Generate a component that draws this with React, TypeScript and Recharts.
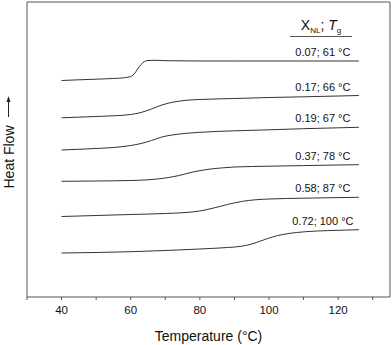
import React from 'react';
import { LineChart, Line, XAxis, YAxis, ReferenceArea } from 'recharts';

// DSC traces, heat flow in arbitrary units (curves offset vertically)
const t1 = [40, 45, 50, 55, 58, 60, 61, 62, 63, 64, 65, 67, 70, 80, 90, 100, 110, 120, 126];
const hf1 = [21.65, 21.72, 21.78, 21.85, 21.92, 22.05, 22.3, 22.8, 23.25, 23.55, 23.65, 23.67, 23.63, 23.6, 23.6, 23.6, 23.6, 23.6, 23.6];

const t2 = [40, 50, 55, 60, 63, 66, 69, 72, 76, 80, 90, 100, 110, 120, 126];
const hf2 = [17.92, 18.05, 18.12, 18.25, 18.45, 18.8, 19.2, 19.47, 19.67, 19.75, 19.85, 19.95, 20.02, 20.1, 20.15];

const t3 = [40, 50, 55, 60, 63, 66, 69, 72, 76, 80, 90, 100, 110, 120, 126];
const hf3 = [14.7, 14.85, 14.95, 15.15, 15.35, 15.65, 16.0, 16.2, 16.37, 16.47, 16.62, 16.72, 16.83, 16.92, 16.97];

const t4 = [40, 50, 60, 65, 70, 74, 78, 82, 86, 90, 100, 110, 120, 126];
const hf4 = [11.57, 11.6, 11.65, 11.72, 11.9, 12.15, 12.5, 12.75, 12.9, 13.0, 13.08, 13.14, 13.2, 13.23];

const t5 = [40, 50, 60, 70, 76, 80, 84, 88, 92, 96, 100, 110, 120, 126];
const hf5 = [8.05, 8.15, 8.25, 8.35, 8.45, 8.6, 8.9, 9.25, 9.55, 9.72, 9.8, 9.88, 9.94, 9.97];

const t6 = [40, 50, 60, 70, 80, 88, 92, 95, 98, 101, 104, 108, 114, 120, 126];
const hf6 = [4.4, 4.45, 4.53, 4.65, 4.8, 4.95, 5.07, 5.3, 5.65, 6.0, 6.25, 6.45, 6.6, 6.67, 6.73];

const sampleLabels = ['0.07; 61 °C', '0.17; 66 °C', '0.19; 67 °C', '0.37; 78 °C', '0.58; 87 °C', '0.72; 100 °C'];
const xTicks = [30, 40, 50, 60, 70, 80, 90, 100, 110, 120, 130];

const series = [
  [t1, hf1],
  [t2, hf2],
  [t3, hf3],
  [t4, hf4],
  [t5, hf5],
  [t6, hf6],
].map(([ts, hs], i) => ({
  name: sampleLabels[i],
  data: ts.map((t, j) => ({ t, hf: hs[j] })),
}));

const FONT = '"Liberation Sans", Arial, sans-serif';

const XTick = ({ x, y, payload }: any) => {
  if (payload.value % 20 !== 0) return <g />;
  return (
    <text x={x} y={y + 12} textAnchor="middle" fontSize={11.5} fill="#111" fontFamily={FONT}>
      {payload.value}
    </text>
  );
};

const endLabel = (text: string, last: number) => (props: any) => {
  if (props.index !== last) return <g key={`l-${props.index}`} />;
  return (
    <text key="end" x={props.x - 36} y={props.y - 5} textAnchor="middle" fontSize={11} fill="#111" fontFamily={FONT}>
      {text}
    </text>
  );
};

export default function App() {
  return (
    <div style={{ position: 'absolute', left: 0, top: 0, width: 392, height: 345, background: '#fff' }}>
      <LineChart width={392} height={345} margin={{ top: 2, right: 2, bottom: 0, left: 27 }}>
        <XAxis
          dataKey="t"
          type="number"
          domain={[30, 135]}
          ticks={xTicks}
          allowDuplicatedCategory={false}
          axisLine={false}
          tickLine={{ stroke: '#555' }}
          tickSize={3}
          tick={<XTick />}
          height={48}
          label={{ value: 'Temperature (°C)', position: 'insideBottom', offset: 4, fontSize: 14, fill: '#111', fontFamily: FONT }}
        />
        <YAxis type="number" domain={[0, 29.5]} hide />
        <ReferenceArea x1={30} x2={135} y1={0} y2={29.5} fill="none" stroke="#555" strokeWidth={1} />
        {series.map((s) => (
          <Line
            key={s.name}
            data={s.data}
            dataKey="hf"
            type="monotone"
            stroke="#333"
            strokeWidth={1}
            dot={false}
            isAnimationActive={false}
            label={endLabel(s.name, s.data.length - 1)}
          />
        ))}
      </LineChart>
      <svg width={392} height={345} style={{ position: 'absolute', left: 0, top: 0, pointerEvents: 'none' }}>
        <text x={321} y={30} textAnchor="middle" fontFamily={FONT} fill="#111">
          <tspan fontSize={14}>X</tspan>
          <tspan fontSize={8} dy={3}>NL</tspan>
          <tspan fontSize={14} dy={-3}>; </tspan>
          <tspan fontSize={14} fontStyle="italic">T</tspan>
          <tspan fontSize={8} dy={3}>g</tspan>
        </text>
        <line x1={290} x2={352} y1={36.5} y2={36.5} stroke="#555" />
        <text
          x={9}
          y={157}
          transform="rotate(-90 9 157)"
          textAnchor="middle"
          dominantBaseline="central"
          fontSize={14}
          fill="#111"
          fontFamily={FONT}
        >
          Heat Flow
        </text>
        <line x1={8.5} x2={8.5} y1={117} y2={100} stroke="#222" />
        <polygon points="8.5,96 6.5,102 10.5,102" fill="#222" />
      </svg>
    </div>
  );
}
